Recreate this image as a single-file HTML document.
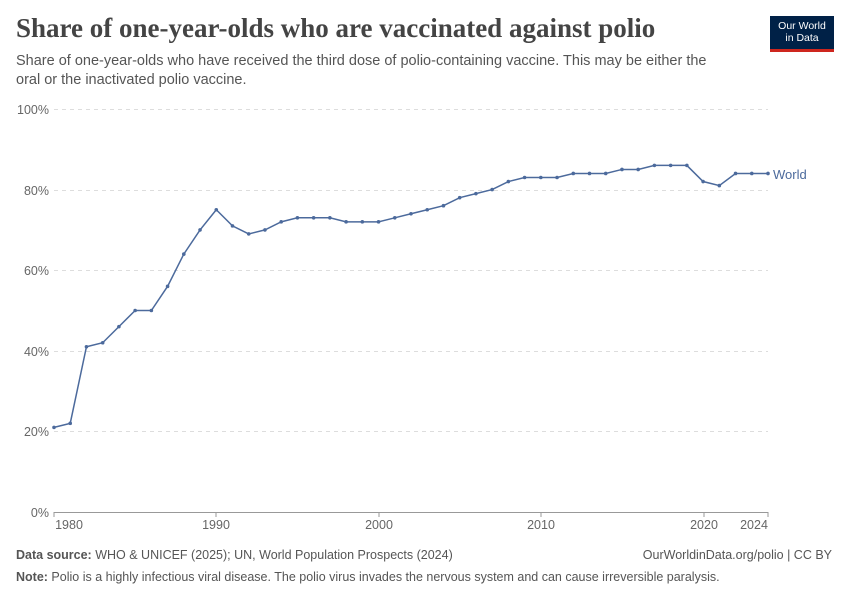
<!DOCTYPE html>
<html><head><meta charset="utf-8"><style>
body{margin:0;background:#fff;font-family:"Liberation Sans",sans-serif}
.wrap{position:relative;width:850px;height:600px;overflow:hidden}
h1{position:absolute;left:16px;top:13px;margin:0;font-family:"Liberation Serif",serif;font-weight:700;font-size:27px;color:#444}
.sub{position:absolute;left:16px;top:52px;width:712px;font-size:14.5px;line-height:19px;color:#555}
.logo{position:absolute;left:770px;top:16px;width:64px;height:36px;background:#002147;color:#fff;font-size:10.5px;line-height:12px;text-align:center;padding-top:4px;box-sizing:border-box;border-bottom:3px solid #ce261e}
.foot{position:absolute;font-size:12.5px;color:#555}
</style></head><body><div class="wrap">
<h1>Share of one-year-olds who are vaccinated against polio</h1>
<div class="sub">Share of one-year-olds who have received the third dose of polio-containing vaccine. This may be either the oral or the inactivated polio vaccine.</div>
<div class="logo">Our World<br>in Data</div>
<svg width="850" height="600" style="position:absolute;left:0;top:0" font-family="Liberation Sans,sans-serif">
<g stroke="#ddd" stroke-dasharray="4,4">
<line x1="54" x2="768" y1="109.5" y2="109.5"/><line x1="54" x2="768" y1="190.5" y2="190.5"/><line x1="54" x2="768" y1="270.5" y2="270.5"/><line x1="54" x2="768" y1="351.5" y2="351.5"/><line x1="54" x2="768" y1="431.5" y2="431.5"/></g>
<line x1="54" x2="768" y1="512.5" y2="512.5" stroke="#999"/>
<g font-size="12.5" fill="#666" text-anchor="end">
<text x="49" y="114">100%</text><text x="49" y="195">80%</text><text x="49" y="275">60%</text><text x="49" y="356">40%</text><text x="49" y="436">20%</text><text x="49" y="517">0%</text></g>
<g font-size="12.5" fill="#666" text-anchor="middle">
<text x="69" y="529">1980</text><text x="216" y="529">1990</text><text x="379" y="529">2000</text><text x="541" y="529">2010</text><text x="704" y="529">2020</text><text x="754" y="529">2024</text></g>
<g stroke="#999"><line x1="216" x2="216" y1="512" y2="517"/><line x1="379" x2="379" y1="512" y2="517"/><line x1="541" x2="541" y1="512" y2="517"/><line x1="704" x2="704" y1="512" y2="517"/><line x1="768" x2="768" y1="512" y2="517"/><line x1="54" x2="54" y1="512" y2="517"/></g>
<g id="s"></g>
<text x="773" y="179" font-size="13" fill="#4c6a9c">World</text>
</svg>
<div class="foot" style="left:16px;top:548px"><b>Data source:</b> WHO &amp; UNICEF (2025); UN, World Population Prospects (2024)</div>
<div class="foot" style="right:18px;top:548px">OurWorldinData.org/polio | CC BY</div>
<div class="foot" style="left:16px;top:570px"><b>Note:</b> Polio is a highly infectious viral disease. The polio virus invades the nervous system and can cause irreversible paralysis.</div>
</div>
<script>
var v=[21,22,41,42,46,50,50,56,64,70,75,71,69,70,72,73,73,73,72,72,72,73,74,75,76,78,79,80,82,83,83,83,84,84,84,85,85,86,86,86,82,81,84,84,84];
var p=v.map(function(d,i){return [54+i*(714/44),512-d*4.03]});
var s='<polyline fill="none" stroke="#4c6a9c" stroke-width="1.5" points="'+p.map(function(a){return a.join(',')}).join(' ')+'"/>';
p.forEach(function(a){s+='<circle cx="'+a[0]+'" cy="'+a[1]+'" r="1.8" fill="#4c6a9c"/>'});
document.getElementById('s').innerHTML=s;
</script>
</body></html>
